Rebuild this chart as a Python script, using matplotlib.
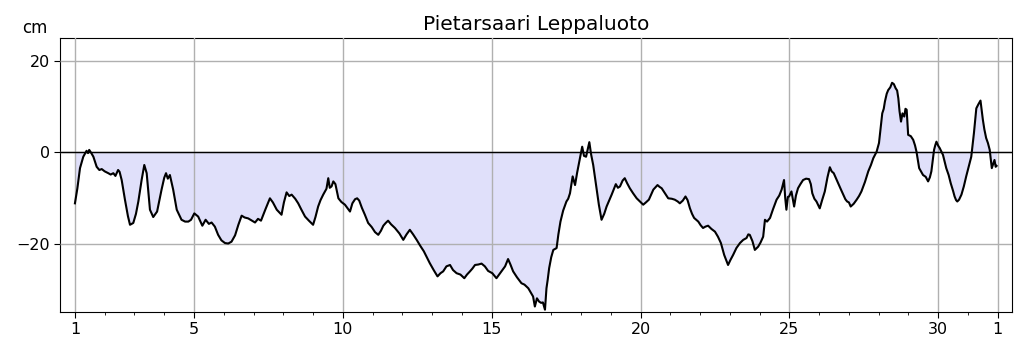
import matplotlib
matplotlib.use("Agg")
import matplotlib.pyplot as plt
from matplotlib.ticker import MultipleLocator

title = "Pietarsaari Leppaluoto"
unit = "cm"
tick_days = [1, 5, 10, 15, 20, 25, 30, 32]
tick_labels = ["1", "5", "10", "15", "20", "25", "30", "1"]

# time in days (day-of-month) and sea level in cm
days = [
    1.00, 1.08, 1.17, 1.28, 1.39, 1.44, 1.48, 1.55, 1.62, 1.73, 1.82, 1.90, 2.00, 2.12, 2.20, 2.29, 2.36, 2.45, 2.50, 2.57,
    2.68, 2.78, 2.85, 2.96, 3.05, 3.13, 3.24, 3.33, 3.41, 3.52, 3.63, 3.76, 3.91, 4.00, 4.06, 4.12, 4.19, 4.30, 4.42, 4.58,
    4.70, 4.81, 4.90, 5.01, 5.14, 5.28, 5.39, 5.50, 5.59, 5.70, 5.81, 5.92, 6.04, 6.15, 6.26, 6.38, 6.49, 6.60, 6.70, 6.82,
    6.95, 7.05, 7.15, 7.25, 7.40, 7.55, 7.65, 7.78, 7.94, 8.02, 8.11, 8.20, 8.28, 8.40, 8.50, 8.60, 8.73, 8.86, 9.00, 9.08,
    9.17, 9.25, 9.34, 9.45, 9.51, 9.56, 9.62, 9.68, 9.75, 9.85, 9.95, 10.07, 10.15, 10.24, 10.32, 10.41, 10.48, 10.55, 10.64, 10.74,
    10.85, 10.97, 11.08, 11.19, 11.28, 11.36, 11.44, 11.52, 11.62, 11.75, 11.90, 12.03, 12.14, 12.25, 12.36, 12.48, 12.60, 12.72, 12.82, 12.92,
    13.05, 13.18, 13.28, 13.37, 13.48, 13.60, 13.70, 13.82, 13.95, 14.08, 14.17, 14.27, 14.35, 14.44, 14.55, 14.66, 14.77, 14.88, 15.02, 15.16,
    15.25, 15.33, 15.45, 15.55, 15.63, 15.72, 15.85, 16.00, 16.10, 16.23, 16.30, 16.39, 16.45, 16.52, 16.59, 16.66, 16.72, 16.79, 16.84, 16.88,
    16.93, 17.00, 17.07, 17.18, 17.24, 17.31, 17.40, 17.51, 17.57, 17.63, 17.72, 17.80, 17.87, 17.94, 18.04, 18.10, 18.17, 18.28, 18.34, 18.41,
    18.52, 18.60, 18.69, 18.78, 18.86, 18.95, 19.03, 19.17, 19.24, 19.31, 19.40, 19.47, 19.55, 19.64, 19.75, 19.87, 19.98, 20.09, 20.18, 20.28,
    20.43, 20.57, 20.64, 20.71, 20.82, 20.93, 21.05, 21.15, 21.25, 21.32, 21.42, 21.51, 21.58, 21.66, 21.73, 21.80, 21.87, 21.94, 22.02, 22.10,
    22.18, 22.27, 22.38, 22.50, 22.60, 22.70, 22.81, 22.94, 23.02, 23.11, 23.22, 23.34, 23.45, 23.56, 23.62, 23.67, 23.76, 23.84, 23.95, 24.03,
    24.12, 24.18, 24.25, 24.35, 24.45, 24.57, 24.66, 24.74, 24.82, 24.86, 24.90, 24.95, 24.99, 25.07, 25.12, 25.16, 25.22, 25.29, 25.37, 25.46,
    25.56, 25.66, 25.72, 25.77, 25.84, 25.91, 25.96, 26.02, 26.10, 26.19, 26.28, 26.36, 26.42, 26.49, 26.57, 26.64, 26.72, 26.81, 26.88, 26.94,
    27.00, 27.06, 27.16, 27.26, 27.34, 27.42, 27.54, 27.65, 27.74, 27.82, 27.93, 28.01, 28.06, 28.12, 28.17, 28.21, 28.27, 28.32, 28.39, 28.45,
    28.51, 28.57, 28.62, 28.66, 28.70, 28.75, 28.80, 28.86, 28.90, 28.94, 28.99, 29.08, 29.16, 29.22, 29.27, 29.36, 29.42, 29.49, 29.58, 29.66,
    29.72, 29.77, 29.82, 29.86, 29.90, 29.94, 30.00, 30.05, 30.16, 30.27, 30.35, 30.42, 30.50, 30.55, 30.60, 30.64, 30.70, 30.78, 30.86, 30.94,
    31.03, 31.11, 31.20, 31.28, 31.35, 31.42, 31.50, 31.55, 31.61, 31.67, 31.73, 31.80, 31.85, 31.89, 31.93, 31.96,
]
level = [
    -11.2, -8.0, -3.5, -1.0, 0.3, -0.2, 0.5, -0.2, -1.0, -3.2, -3.9, -3.7, -4.2, -4.6, -4.9, -4.6, -5.2, -3.9, -4.3, -6.1,
    -10.4, -14.0, -15.9, -15.5, -13.5, -10.8, -6.1, -2.8, -4.6, -12.6, -14.2, -13.0, -8.2, -5.6, -4.6, -5.8, -5.0, -8.2, -12.6, -14.8,
    -15.2, -15.2, -14.8, -13.4, -14.1, -16.1, -14.8, -15.7, -15.4, -16.3, -18.1, -19.3, -19.9, -20.0, -19.6, -18.2, -15.9, -13.9, -14.3, -14.5,
    -15.0, -15.4, -14.6, -15.0, -12.5, -10.1, -11.0, -12.6, -13.7, -11.0, -8.8, -9.6, -9.3, -10.2, -11.2, -12.5, -14.1, -15.0, -15.9, -14.2,
    -11.9, -10.5, -9.3, -8.0, -5.7, -7.8, -7.5, -6.4, -7.0, -10.1, -10.9, -11.5, -12.2, -13.0, -11.2, -10.3, -10.1, -10.6, -12.2, -13.7,
    -15.5, -16.4, -17.5, -18.1, -17.2, -16.1, -15.5, -15.0, -15.8, -16.6, -17.8, -19.2, -18.0, -17.0, -18.0, -19.2, -20.5, -21.7, -23.0, -24.3,
    -25.8, -27.2, -26.5, -26.1, -25.0, -24.7, -25.8, -26.5, -26.8, -27.6, -26.8, -26.1, -25.5, -24.7, -24.6, -24.4, -25.0, -26.0, -26.5, -27.6,
    -26.8, -26.1, -25.0, -23.4, -24.6, -26.1, -27.4, -28.7, -29.0, -29.8, -30.6, -31.6, -33.8, -32.0, -32.7, -33.0, -32.9, -34.5, -29.8, -28.0,
    -25.4, -23.0, -21.4, -21.0, -18.0, -15.2, -12.8, -10.8, -10.2, -9.0, -5.3, -7.2, -4.5, -2.1, 1.2, -0.8, -1.0, 2.2, -0.5, -2.8,
    -7.9, -11.5, -14.8, -13.5, -11.9, -10.5, -9.3, -7.0, -7.8, -7.5, -6.2, -5.7, -6.8, -7.9, -9.0, -10.1, -10.8, -11.5, -11.0, -10.4,
    -8.2, -7.2, -7.6, -7.9, -9.0, -10.1, -10.2, -10.4, -10.8, -11.2, -10.6, -9.7, -10.5, -12.3, -13.5, -14.4, -14.8, -15.2, -16.0, -16.6,
    -16.3, -16.1, -16.8, -17.4, -18.5, -19.9, -22.5, -24.7, -23.6, -22.5, -21.0, -19.9, -19.2, -18.8, -18.0, -18.1, -19.5, -21.4, -20.7, -19.8,
    -18.5, -14.8, -15.2, -14.4, -12.5, -10.4, -9.5, -8.2, -6.1, -10.0, -12.6, -9.8, -9.7, -8.6, -10.5, -11.9, -9.5, -7.9, -7.0, -6.1,
    -5.8, -5.9, -7.0, -9.0, -10.2, -10.8, -11.5, -12.3, -10.5, -8.6, -5.5, -3.3, -4.2, -4.6, -5.8, -6.8, -8.0, -9.3, -10.3, -10.8,
    -11.0, -11.9, -11.3, -10.4, -9.6, -8.6, -6.5, -4.2, -2.8, -1.3, 0.1, 2.0, 5.0, 8.5, 9.5, 11.1, 12.8, 13.6, 14.2, 15.2,
    14.9, 14.0, 13.5, 11.8, 9.0, 6.7, 8.5, 7.8, 9.5, 9.3, 3.8, 3.5, 2.7, 1.5, 0.1, -3.5, -4.2, -5.0, -5.4, -6.4,
    -5.5, -4.2, -1.5, 0.5, 1.5, 2.3, 1.4, 0.9, -0.6, -3.5, -5.0, -6.8, -8.5, -9.7, -10.5, -10.8, -10.4, -9.3, -7.5, -5.3,
    -3.0, -1.0, 4.2, 9.6, 10.5, 11.3, 7.1, 5.0, 3.1, 2.0, 0.5, -3.5, -2.5, -1.7, -3.2, -3.0,
]

fig = plt.figure(figsize=(10.23, 3.52), dpi=100)
ax = fig.add_axes([0.0587, 0.1136, 0.9303, 0.7784])

ax.fill_between(days, level, 0, color="#e0e0fa", linewidth=0, zorder=1)
ax.axhline(0, color="black", linewidth=1.0, zorder=2.6)
ax.plot(days, level, color="black", linewidth=1.5, zorder=3)

ax.set_xlim(0.5, 32.47)
ax.set_ylim(-35, 25)
ax.set_xticks(tick_days)
ax.set_xticklabels(tick_labels)
ax.xaxis.set_minor_locator(MultipleLocator(1))
ax.set_yticks([-20, 0, 20])
ax.set_axisbelow(False)
ax.grid(True, which="major", color="#b0b0b0", linewidth=1.0, zorder=2.5)
ax.tick_params(axis="both", which="major", labelsize=11.5, length=4)
ax.tick_params(axis="x", which="minor", length=2.5)
ax.set_title(title, fontsize=14.5, pad=6)
ax.text(-0.026, 1.036, unit, transform=ax.transAxes, ha="center", va="center", fontsize=12)

fig.savefig("out.png", dpi=100)
